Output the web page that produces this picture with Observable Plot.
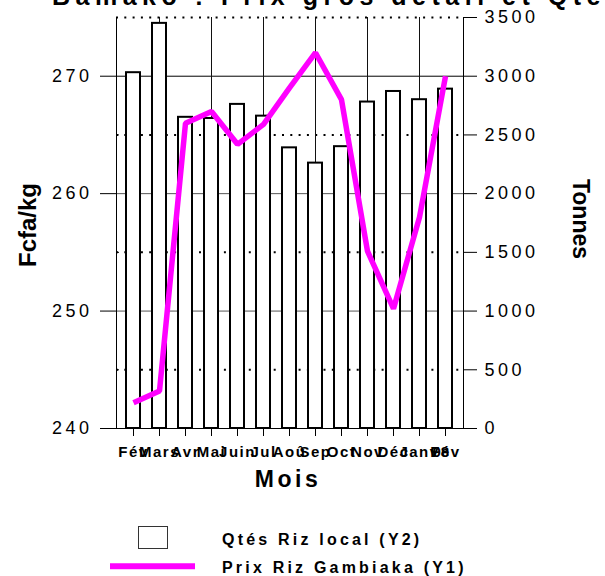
<!DOCTYPE html>
<html><head><meta charset="utf-8">
<script src="https://cdn.jsdelivr.net/npm/d3@7"></script>
<script src="https://cdn.jsdelivr.net/npm/@observablehq/plot@0.6"></script>
<style>
body{margin:0;background:#fff;overflow:hidden;}
svg text{font-family:"Liberation Sans",Arial,sans-serif;}
[aria-label="y-axis tick label"] text{letter-spacing:3.5px;}
[aria-label="x-axis tick label"] text{letter-spacing:1.5px;}
</style></head><body><div id="chart"></div>
<script>
// ---- data ----
const monthKeys = ["Fév07","Mars","Avr","Mai","Juin","Jul","Aoû","Sep","Oct","Nov","Déc","Janv","Fév08"];
const monthLabels = ["Fév","Mars","Avr","Mai","Juin","Jul","Aoû","Sep","Oct","Nov","Déc","Janv","Fév"];
const qtesRizLocal = [3030, 3450, 2650, 2640, 2760, 2660, 2390, 2260, 2400, 2780, 2870, 2800, 2890]; // Tonnes (Y2)
const prixRizGambiaka = [242.2, 243.2, 266.0, 267.0, 264.2, 265.9, 269.0, 272.0, 268.0, 255.1, 250.2, 258.0, 270.0]; // Fcfa/kg (Y1)
const leftTicks = [240, 250, 260, 270];
const leftMinorTicks = [245, 255, 265];
const rightTicks = [0, 500, 1000, 1500, 2000, 2500, 3000, 3500];
const solidGrid = [250, 260, 270];
const dottedGrid = [245, 255, 265, 275];
const gridMonths = ["Mars","Mai","Jul","Sep","Nov","Janv"];
const yearTag = [{key: "Fév08", text: "08"}];
const y1Domain = [240, 275];
const y2Domain = [0, 3500];

// map Y2 (tonnes) onto Y1 scale
const k = (y1Domain[1] - y1Domain[0]) / (y2Domain[1] - y2Domain[0]);
const toY1 = q => y1Domain[0] + (q - y2Domain[0]) * k;
const toY2 = v => Math.round(y2Domain[0] + (v - y1Domain[0]) / k);

const data = monthKeys.map((key, i) => ({key, label: monthLabels[i], q: qtesRizLocal[i], p: prixRizGambiaka[i]}));
const labelOf = Object.fromEntries(monthKeys.map((k2, i) => [k2, monthLabels[i]]));

const chart = Plot.plot({
  width: 605,
  height: 576,
  marginLeft: 116,
  marginRight: 142,
  marginTop: 17,
  marginBottom: 148,
  style: {fontFamily: "Liberation Sans, Arial, sans-serif", background: "white", color: "black"},
  x: {type: "band", domain: monthKeys, paddingInner: 0.46, paddingOuter: 0.23, axis: null},
  y: {domain: y1Domain, axis: null},
  marks: [
    Plot.ruleY(solidGrid, {stroke: d => d === 270 ? "#000" : "#555", strokeWidth: 1}),
    Plot.ruleY(dottedGrid, {stroke: "#000", strokeWidth: 2, strokeDasharray: "2,6.3"}),
    Plot.ruleX(gridMonths, {y1: y1Domain[0], y2: y1Domain[1], stroke: "#111", strokeWidth: 1}),
    Plot.barY(data, {x: "key", y1: y1Domain[0], y2: d => toY1(d.q), fill: "white", stroke: "black", strokeWidth: 2}),
    Plot.ruleY([y1Domain[0]], {stroke: "black", strokeWidth: 1}),
    Plot.frame({anchor: "left", stroke: "black"}),
    Plot.frame({anchor: "right", stroke: "black"}),
    Plot.lineY(data, {x: "key", y: "p", stroke: "#ff00ff", strokeWidth: 5.5, strokeLinejoin: "miter", strokeLinecap: "butt"}),
    Plot.axisY({anchor: "left", ticks: leftTicks, tickSize: 16, tickPadding: 8, fontSize: 18, label: null}),
    Plot.axisY({anchor: "left", ticks: leftMinorTicks, tickSize: 3, dx: 3, tickFormat: () => "", label: null}),
    Plot.axisY({anchor: "right", ticks: rightTicks.map(toY1), tickSize: 13, tickPadding: 8, fontSize: 18, tickFormat: v => String(toY2(v)), label: null}),
    Plot.axisX({anchor: "bottom", tickSize: 8, tickPadding: 10, fontSize: 15, fontWeight: "bold", tickFormat: d => labelOf[d], label: null}),
    Plot.text(yearTag, {x: "key", y: y1Domain[0], text: "text", dy: 18, dx: -13, lineAnchor: "top", textAnchor: "start", fontSize: 15, fontWeight: "bold"})
  ]
});

document.getElementById("chart").appendChild(chart);
const svg = d3.select(chart);

// title (cut at top as in the reference)
svg.append("text").attr("x", 52).attr("y", 5).attr("text-anchor", "start")
  .attr("font-size", 25).attr("font-weight", "bold").attr("letter-spacing", "5.5px")
  .text("Bamako : Prix gros détail et Qtés de riz local");

// axis titles
svg.append("text").attr("transform", "translate(36,225) rotate(-90)")
  .attr("text-anchor", "middle").attr("font-size", 24).attr("font-weight", "bold")
  .text("Fcfa/kg");
svg.append("text").attr("transform", "translate(573,219) rotate(90)")
  .attr("text-anchor", "middle").attr("font-size", 23).attr("font-weight", "bold")
  .text("Tonnes");
svg.append("text").attr("x", 288).attr("y", 487)
  .attr("text-anchor", "middle").attr("font-size", 23).attr("font-weight", "bold").attr("letter-spacing", "3.5px")
  .text("Mois");

// legend
svg.append("rect").attr("x", 138.5).attr("y", 526.5).attr("width", 29).attr("height", 22)
  .attr("fill", "white").attr("stroke", "#333").attr("stroke-width", 1);
svg.append("text").attr("x", 222).attr("y", 545).attr("text-anchor", "start")
  .attr("font-size", 16).attr("font-weight", "bold").attr("letter-spacing", "3.2px")
  .text("Qtés Riz local (Y2)");
svg.append("line").attr("x1", 110).attr("x2", 195).attr("y1", 566.3).attr("y2", 566.3)
  .attr("stroke", "#ff00ff").attr("stroke-width", 6);
svg.append("text").attr("x", 222).attr("y", 573).attr("text-anchor", "start")
  .attr("font-size", 16).attr("font-weight", "bold").attr("letter-spacing", "3.2px")
  .text("Prix Riz Gambiaka (Y1)");
</script></body></html>
